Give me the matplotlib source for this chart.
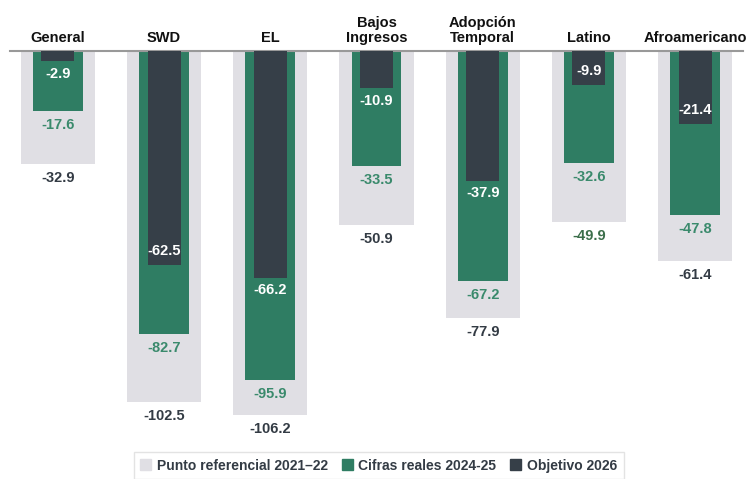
import matplotlib.pyplot as plt
import numpy as np

categorias = ['General', 'SWD', 'EL', 'Bajos\nIngresos', 'Adopción\nTemporal', 'Latino', 'Afroamericano']
referencia = [-32.9, -102.5, -106.2, -50.9, -77.9, -49.9, -61.4]
reales = [-17.6, -82.7, -95.9, -33.5, -67.2, -32.6, -47.8]
objetivo = [-2.9, -62.5, -66.2, -10.9, -37.9, -9.9, -21.4]

c_gris = '#e0dfe4'
c_verde = '#2f7d63'
c_oscuro = '#363f48'
c_txt = '#333b44'

plt.rcParams['font.family'] = ['Liberation Sans', 'DejaVu Sans']

fig = plt.figure(figsize=(7.53, 4.79), dpi=100)
ax = fig.add_axes([0.013, 0.1065, 0.974, 0.787])

x = np.arange(len(categorias))
ax.bar(x, referencia, width=0.70, color=c_gris, zorder=1)
ax.bar(x, reales, width=0.47, color=c_verde, zorder=2)
ax.bar(x, objetivo, width=0.31, color=c_oscuro, zorder=3)

fs = 10.5
# etiquetas gris
for i, v in enumerate(referencia):
    col = '#3b6e4a' if categorias[i] == 'Latino' else c_txt
    ax.annotate(f'{v:.1f}', (x[i], v), xytext=(0, -5), textcoords='offset points',
                ha='center', va='top', fontsize=fs, fontweight='bold', color=col)
for i, v in enumerate(reales):
    ax.annotate(f'{v:.1f}', (x[i], v), xytext=(0, -5), textcoords='offset points',
                ha='center', va='top', fontsize=fs, fontweight='bold', color='#3a8a6c')
dentro = [False, True, False, False, False, True, True]
for i, v in enumerate(objetivo):
    if dentro[i]:
        ax.annotate(f'{v:.1f}', (x[i], v), xytext=(0, 5), textcoords='offset points',
                    ha='center', va='bottom', fontsize=fs, fontweight='bold', color='white', zorder=4)
    else:
        ax.annotate(f'{v:.1f}', (x[i], v), xytext=(0, -4), textcoords='offset points',
                    ha='center', va='top', fontsize=fs, fontweight='bold', color='white', zorder=4)

for i, c in enumerate(categorias):
    ax.text(x[i], 1.8, c, ha='center', va='bottom', fontsize=10.5, fontweight='bold',
            color='#111111', linespacing=1.05)

ax.set_xlim(-0.452, 6.452)
ax.set_ylim(-110, 0)
for s in ['left', 'right', 'bottom']:
    ax.spines[s].set_visible(False)
ax.spines['top'].set_color('#999999')
ax.spines['top'].set_linewidth(1.5)
ax.set_xticks([])
ax.set_yticks([])

h = [plt.Rectangle((0, 0), 1, 1, color=c) for c in (c_gris, c_verde, c_oscuro)]
leg = fig.legend(h, ['Punto referencial 2021–22', 'Cifras reales 2024-25', 'Objetivo 2026'],
                 loc='lower center', bbox_to_anchor=(0.503, -0.014), ncol=3, frameon=True,
                 fancybox=False, edgecolor='#dddddd', handlelength=0.8, handleheight=0.8,
                 handletextpad=0.4, columnspacing=1.0, borderpad=0.45,
                 prop={'weight': 'bold', 'size': 10})
for t in leg.get_texts():
    t.set_color(c_txt)

fig.savefig('out.png', dpi=100)
